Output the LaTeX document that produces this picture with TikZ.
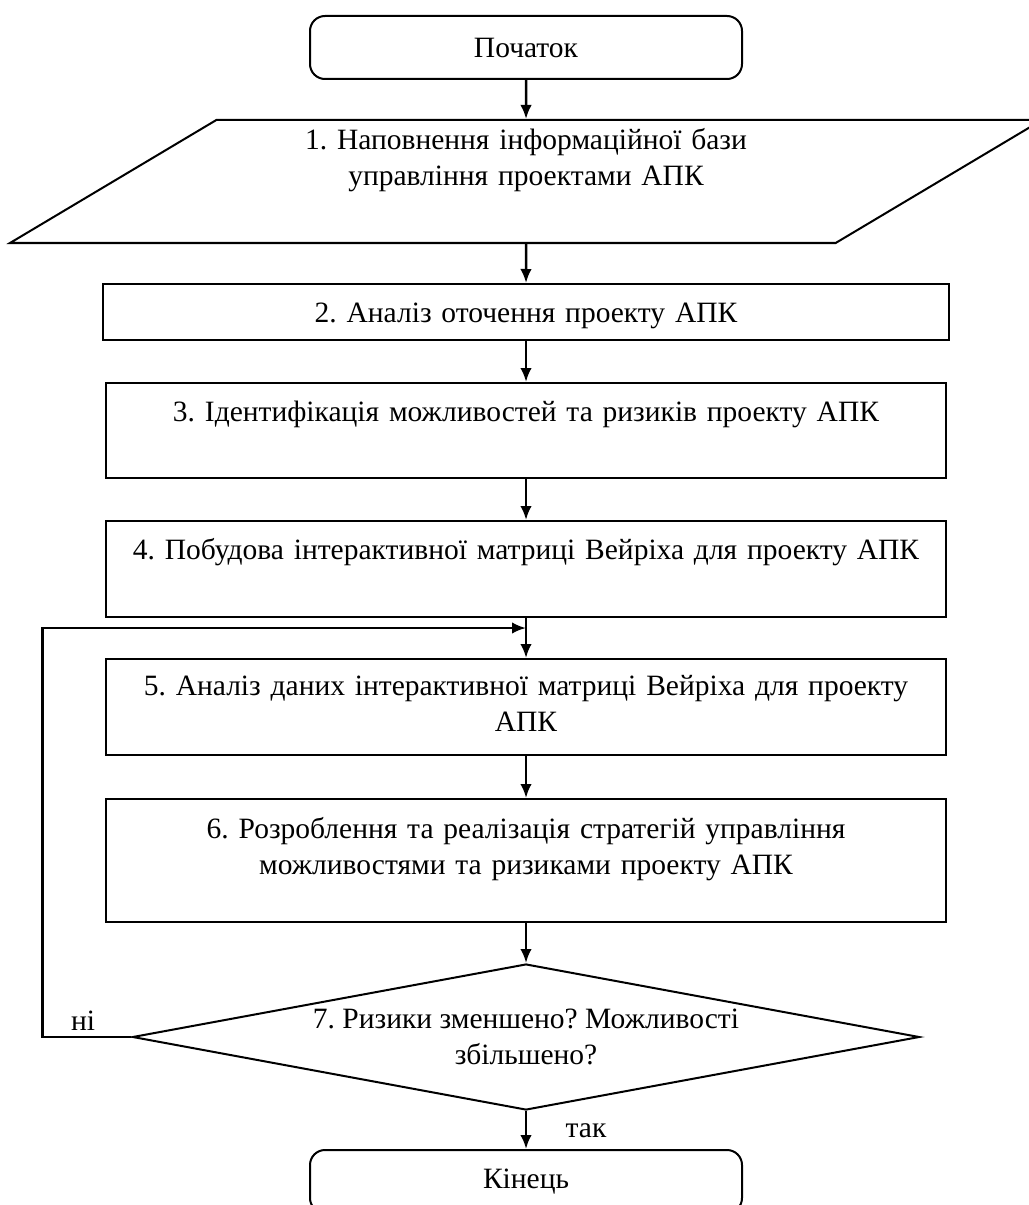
\documentclass[tikz,border=0pt]{standalone}
\usepackage{fontspec}
\setmainfont{Liberation Serif}
\frenchspacing
\usetikzlibrary{shapes.geometric,arrows.meta}

\begin{document}
\begin{tikzpicture}[x=0.4pt,y=-0.4pt,
    font=\fontsize{11.8}{14.4}\selectfont,
    stagebox/.style={draw,line width=0.8pt,text width=335.6pt,align=center,inner sep=0pt,text height=15.2pt,anchor=north},
    termbox/.style={draw,line width=0.8pt,rounded corners=6pt,minimum width=172.8pt,minimum height=25.2pt,anchor=north},
    conn/.style={-{Latex[length=5.6pt,width=4.6pt]},line width=1pt}]
  \useasboundingbox (0,0) rectangle (1028,1205);
  \node[termbox] (start) at (526,15) {Початок};
  \node[draw,line width=0.8pt,trapezium,trapezium left angle=30.8,trapezium right angle=149.2,
    trapezium stretches body,minimum width=412.8pt,minimum height=49.2pt,inner sep=0pt,
    text width=220pt,align=center,text height=12pt,text depth=37.2pt] (p1) at (526,181.5)
    {1. Наповнення інформаційної бази\\управління проектами АПК};
  \node[stagebox,text width=338pt,text depth=7.2pt] (s2) at (526,283) {2. Аналіз оточення проекту АПК};
  \node[stagebox,text depth=22.8pt] (s3) at (526,382) {3. Ідентифікація можливостей та ризиків проекту АПК};
  \node[stagebox,text depth=23.2pt] (s4) at (526,520) {4. Побудова інтерактивної матриці Вейріха для проекту АПК};
  \node[stagebox,text height=14.4pt,text depth=24pt] (s5) at (526,658)
    {5. Аналіз даних інтерактивної матриці Вейріха для проекту\\АПК};
  \node[stagebox,text height=15.6pt,text depth=33.6pt] (s6) at (526,798)
    {6. Розроблення та реалізація стратегій управління\\можливостями та ризиками проекту АПК};
  \node[draw,line width=0.8pt,diamond,aspect=5.39,minimum width=314.8pt,minimum height=58.4pt,
    inner sep=0pt,align=center] (d7) at (526,1037) {7. Ризики зменшено? Можливості\\збільшено?};
  \node[termbox] (finish) at (526,1149) {Кінець};
  \coordinate (jn) at (526,628);
  \node (no) at (83,1021) {ні};
  \node (yes) at (586,1131) {так};
  % connectors
  \draw[conn] (start) -- (p1);
  \draw[conn] (p1) -- (s2);
  \draw[conn] (s2) -- (s3);
  \draw[conn] (s3) -- (s4);
  \draw[line width=1pt] (s4) -- (jn);
  \draw[conn] (jn) -- (s5);
  \draw[conn] (s5) -- (s6);
  \draw[conn] (s6) -- (d7);
  \draw[conn] (d7) -- (finish);
  \draw[conn] (d7.west) -- ++(-89,0) |- (jn);
\end{tikzpicture}
\end{document}
